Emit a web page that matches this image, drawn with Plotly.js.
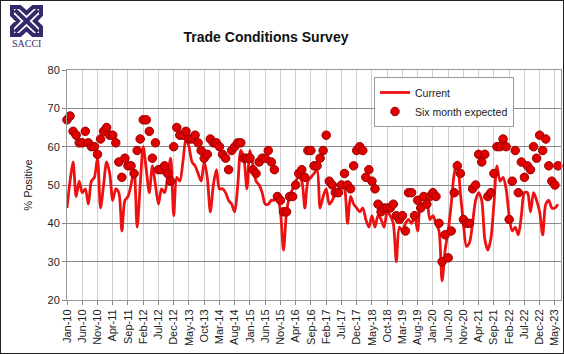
<!DOCTYPE html>
<html>
<head>
<meta charset="utf-8">
<script src="https://cdn.plot.ly/plotly-3.0.1.min.js"></script>
<style>
  html, body { margin: 0; padding: 0; background: #fff; }
  #chart { position: absolute; left: 0; top: 0; width: 564px; height: 354px; }
  #frame { position: absolute; left: 0; top: 0; width: 564px; height: 354px; box-sizing: border-box; border: 1.5px solid #222; pointer-events: none; }
</style>
</head>
<body>
<div id="chart"></div>
<div id="frame"></div>
<script>
// ---- data (monthly, Jan-10 .. Jun-23) ----
const monthNames = ['Jan','Feb','Mar','Apr','May','Jun','Jul','Aug','Sep','Oct','Nov','Dec'];
const months = [];
for (let i = 0; i < 162; i++) {
  months.push(monthNames[i % 12] + '-' + (10 + Math.floor(i / 12)));
}

const tickLabels = ['Jan-10','Jun-10','Nov-10','Apr-11','Sep-11','Feb-12','Jul-12','Dec-12',
  'May-13','Oct-13','Mar-14','Aug-14','Jan-15','Jun-15','Nov-15','Apr-16','Sep-16','Feb-17',
  'Jul-17','Dec-17','May-18','Oct-18','Mar-19','Aug-19','Jan-20','Jun-20','Nov-20','Apr-21',
  'Sep-21','Feb-22','Jul-22','Dec-22','May-23'];

const current = [
  44, 51, 56, 47, 51, 48, 49, 45, 51, 52,
  57, 44, 50, 56, 53, 46, 49, 48, 38, 46,
  47, 50, 54, 39, 50, 60, 54, 48, 55, 50,
  45, 49, 48, 52, 57, 42, 52, 51, 56, 62,
  60, 56, 55, 53, 51, 56, 52, 43, 50, 54,
  49, 49, 48, 46, 45, 43, 50, 59, 57, 49,
  59, 55, 51, 50, 48, 45, 45, 46, 46, 47,
  43, 33, 43, 47, 49, 51, 52, 51, 44, 51,
  52, 53, 54, 44, 47, 49, 45, 46, 48, 49,
  50, 49, 40, 47, 45, 44, 43, 44, 41, 39,
  42, 39, 42, 41, 39, 43, 42, 40, 30, 39,
  38, 40, 41, 40, 42, 38, 45, 45, 46, 41,
  42, 40, 38, 25, 33, 38, 45, 53, 56, 48,
  40, 34, 35, 40, 46, 48, 46, 36, 33, 36,
  45, 55, 51, 52, 49, 42, 38, 39, 37, 42,
  48, 48, 43, 48, 46, 43, 37, 45, 46, 44,
  44, 45
];

const sixMonthExpected = [
  67, 68, 64, 63, 61, 61, 64, 61, 60, 60,
  58, 62, 64, 65, 63, 63, 61, 56, 52, 57,
  55, 55, 53, 59, 62, 67, 67, 64, 57, 61,
  54, 54, 55, 53, 51, 60, 65, 63, 63, 64,
  62, 62, 63, 61, 59, 57, 58, 62, 61, 61,
  60, 58, 57, 54, 59, 60, 61, 61, 57, 57,
  57, 54, 53, 56, 57, 57, 59, 56, 54, 47,
  46, 43, 43, 47, 47, 50, 53, 54, 52, 59,
  59, 55, 55, 57, 59, 63, 51, 50, 48, 48,
  50, 53, 50, 49, 55, 59, 60, 59, 52, 54,
  51, 49, 45, 43, 44, 44, 44, 45, 42, 41,
  42, 38, 48, 48, 42, 46, 44, 47, 45, 47,
  48, 47, 40, 30, 37, 31, 38, 48, 55, 53,
  41, 40, 40, 49, 50, 58, 56, 58, 47, 48,
  53, 60, 60, 62, 60, 41, 51, 59, 48, 56,
  52, 55, 54, 60, 57, 63, 59, 62, 55, 51,
  50, 55
];

const yTicks = [20, 30, 40, 50, 60, 70, 80];

// ---- layout helpers (pixel -> paper) ----
const W = 564, H = 354, ML = 67, MR = 3, MT = 70, MB = 54;
const PW = W - ML - MR, PH = H - MT - MB;
const px = x => (x - ML) / PW;
const py = y => (H - MB - y) / PH;

const purple = '#35296a';
function pathPx(pts) {
  return 'M' + pts.map(p => px(p[0]) + ',' + py(p[1])).join(' L') + ' Z';
}

const logoShapes = [
  { type: 'path', xref: 'paper', yref: 'paper',
    path: pathPx([[12,7],[20,7],[26.5,13],[33,7],[41,7],[41,15],[35,21],[41,27],[41,35],[33,35],[26.5,29],[20,35],[12,35],[12,27],[18,21],[12,15]]),
    line: { color: purple, width: 4 } },
  { type: 'line', xref: 'paper', yref: 'paper', x0: px(15), y0: py(10), x1: px(38), y1: py(32),
    line: { color: purple, width: 4 } },
  { type: 'line', xref: 'paper', yref: 'paper', x0: px(38), y0: py(10), x1: px(15), y1: py(32),
    line: { color: purple, width: 4 } }
];

const traces = [
  {
    x: months, y: current, name: 'Current', type: 'scatter', mode: 'lines',
    line: { color: '#ee1111', width: 2.8, shape: 'spline', smoothing: 0.8 },
    cliponaxis: false
  },
  {
    x: months, y: sixMonthExpected, name: 'Six month expected', type: 'scatter', mode: 'markers',
    marker: { color: '#e00000', size: 8.5, line: { color: '#9a0000', width: 1 } },
    cliponaxis: false
  }
];

const layout = {
  width: W, height: H,
  margin: { l: ML, r: MR, t: MT, b: MB, pad: 0 },
  paper_bgcolor: '#ffffff', plot_bgcolor: '#ffffff',
  font: { family: 'Arial, "Liberation Sans", sans-serif', size: 11, color: '#222' },
  title: {
    text: '<b>Trade Conditions Survey</b>',
    font: { family: 'Arial, "Liberation Sans", sans-serif', size: 14, color: '#111' },
    xref: 'container', x: 266 / W, xanchor: 'center',
    yref: 'container', y: 1 - 37 / H, yanchor: 'middle'
  },
  xaxis: {
    type: 'category',
    range: [0, 162],
    tickmode: 'array', tickvals: tickLabels, ticktext: tickLabels,
    tickangle: -90,
    tickfont: { size: 11, color: '#222' },
    ticks: 'outside', ticklen: 4, tickcolor: '#888',
    showgrid: true, gridcolor: '#cfcfcf', gridwidth: 1,
    showline: true, linecolor: '#999', linewidth: 1, mirror: true,
    zeroline: false, fixedrange: true
  },
  yaxis: {
    range: [20, 80],
    tickmode: 'array', tickvals: yTicks,
    tickfont: { size: 11, color: '#222' },
    ticks: 'outside', ticklen: 4, tickcolor: '#888',
    showgrid: true, gridcolor: '#8a8a8a', gridwidth: 1,
    showline: true, linecolor: '#999', linewidth: 1, mirror: true,
    zeroline: false, fixedrange: true,
    title: { text: '% Positive', font: { size: 11, color: '#222' }, standoff: 12 }
  },
  showlegend: true,
  legend: {
    x: px(374), y: py(77), xanchor: 'left', yanchor: 'top',
    bgcolor: '#ffffff', bordercolor: '#999', borderwidth: 1,
    font: { size: 10.5, color: '#222' },
    tracegroupgap: 0, itemwidth: 30
  },
  shapes: logoShapes,
  annotations: [
    { text: 'SACCI', xref: 'paper', yref: 'paper', x: px(26.5), y: py(43), showarrow: false,
      xanchor: 'center', yanchor: 'middle',
      font: { family: '"Liberation Serif", "DejaVu Serif", serif', size: 10, color: purple } }
  ]
};

Plotly.newPlot('chart', traces, layout, { displayModeBar: false, staticPlot: true });
</script>
</body>
</html>
